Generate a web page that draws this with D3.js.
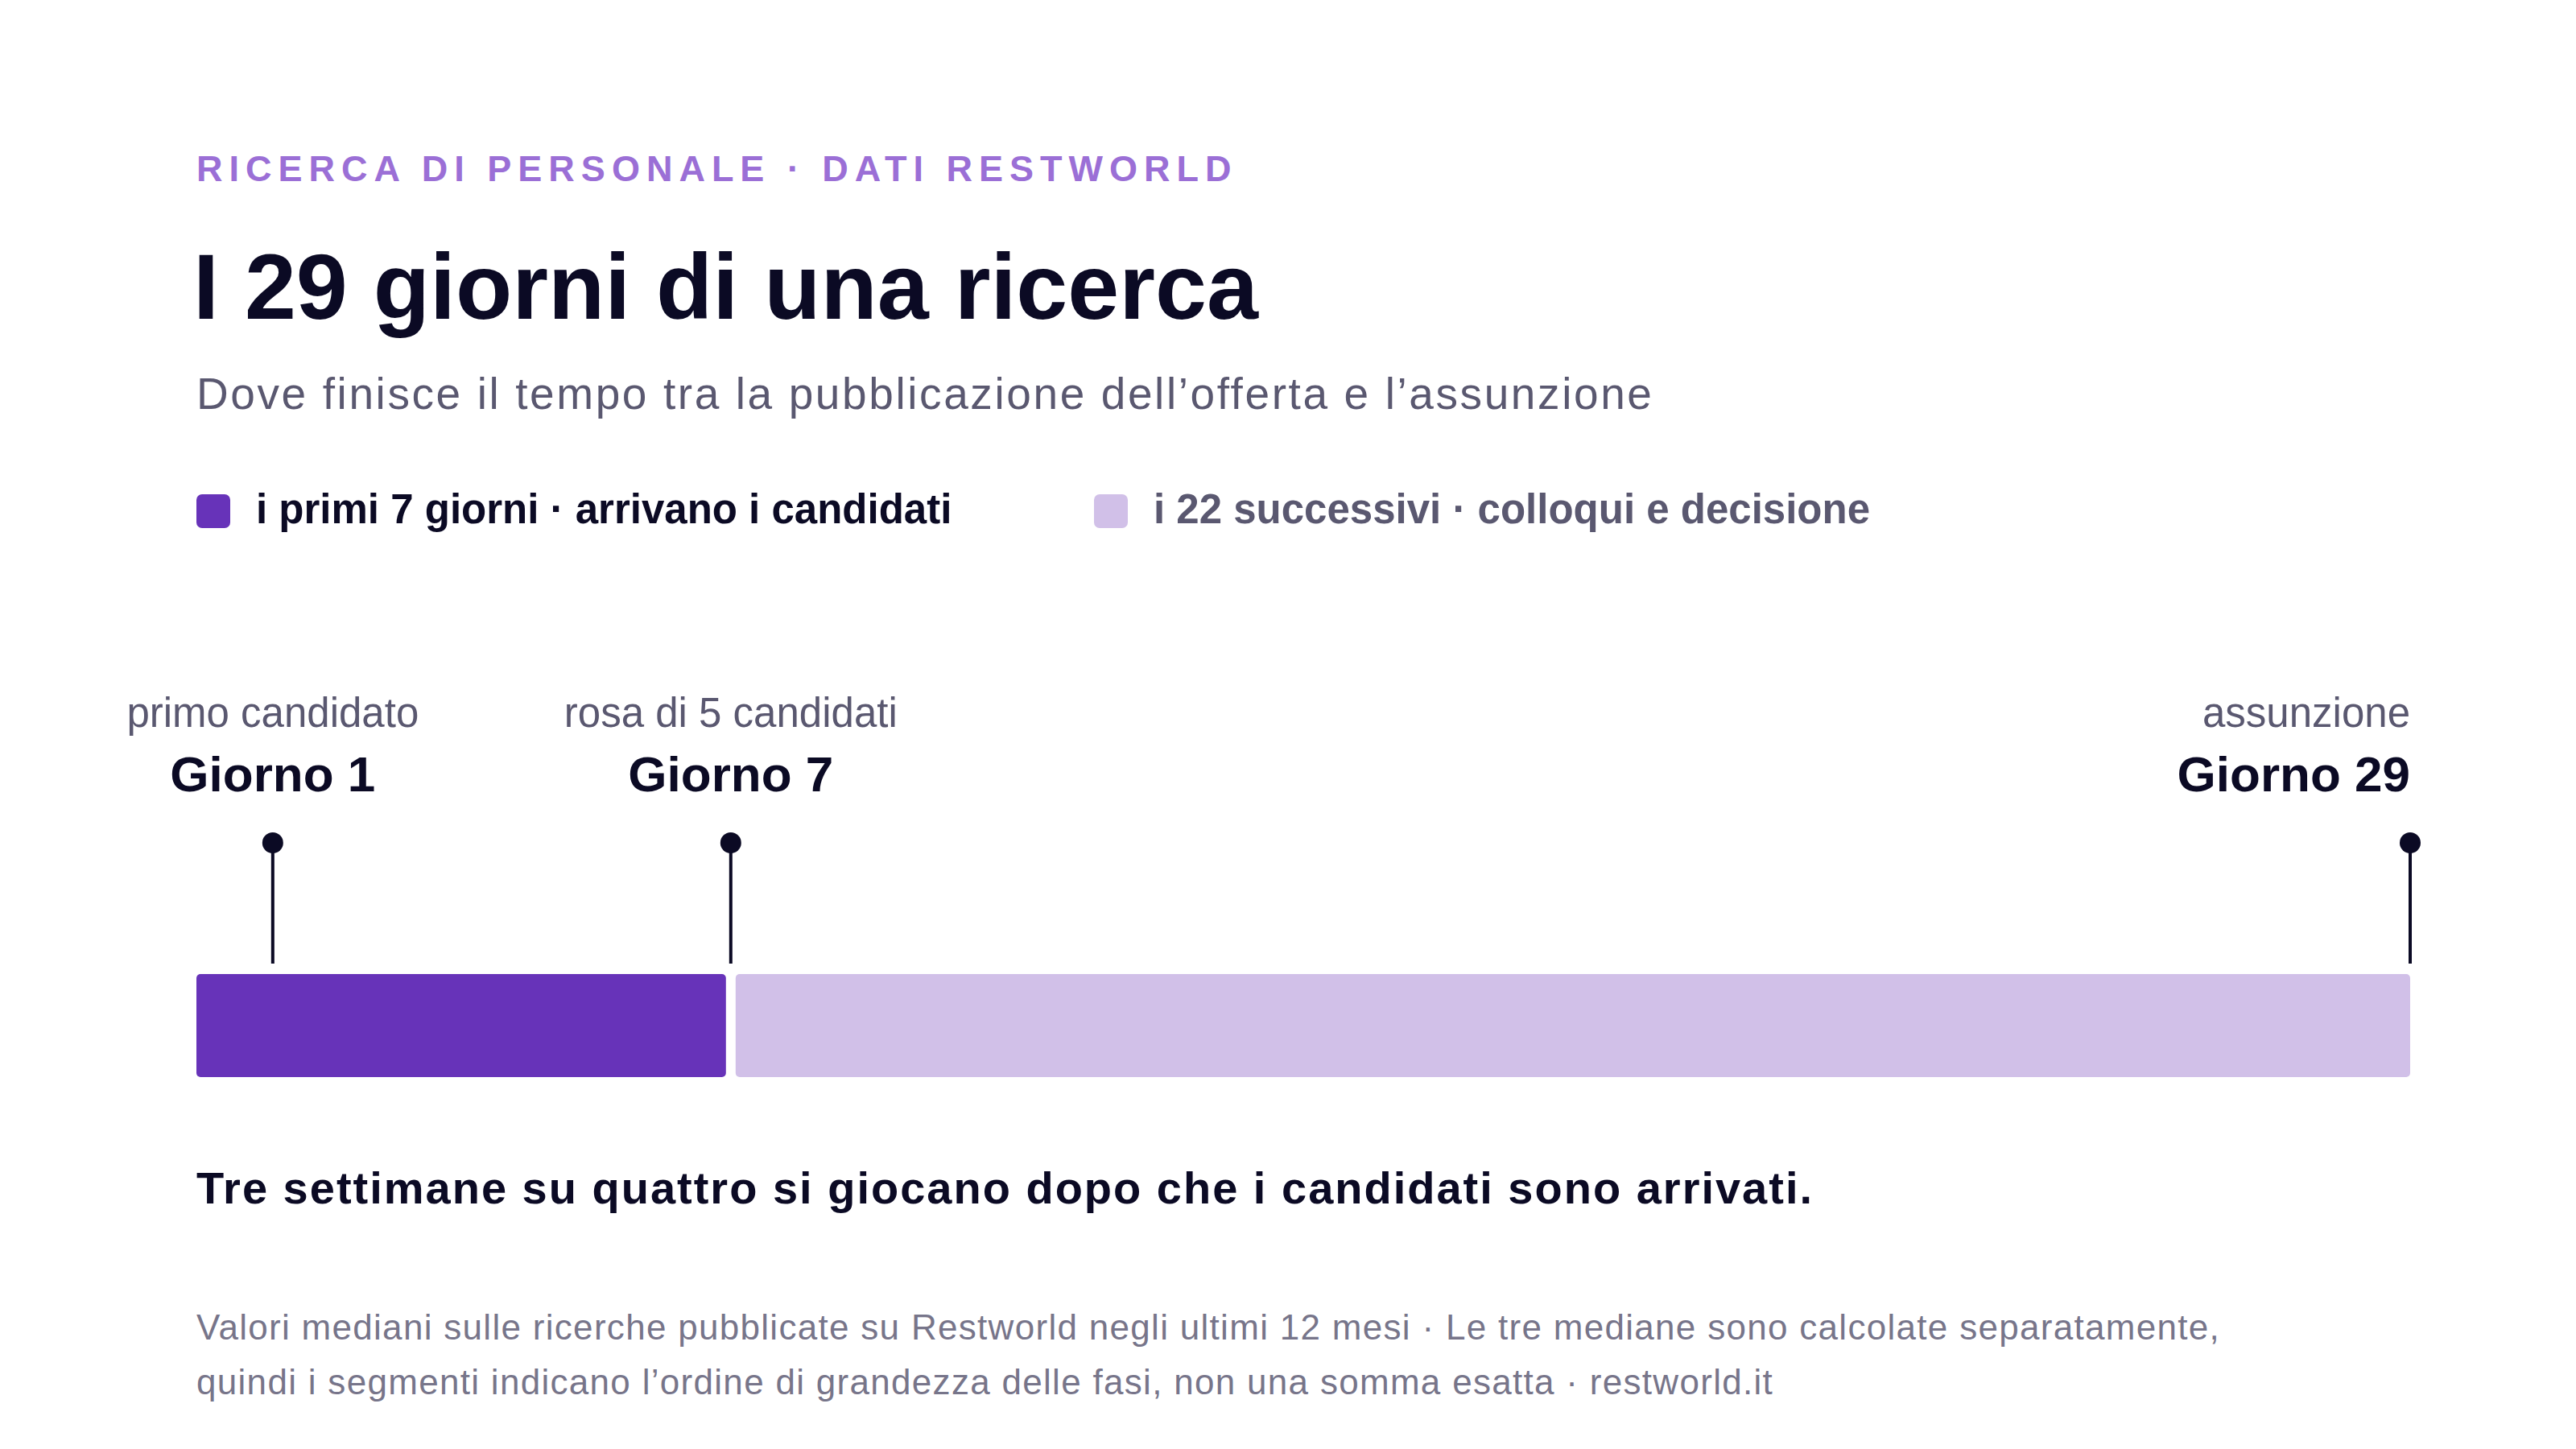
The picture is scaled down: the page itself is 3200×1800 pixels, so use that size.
<!DOCTYPE html>
<html>
<head>
<meta charset="utf-8">
<script src="https://d3js.org/d3.v7.min.js"></script>
<style>
  body { margin: 0; background: #fff; }
  svg { display: block; font-family: "Liberation Sans", Arial, sans-serif; }
</style>
</head>
<body>
<div id="chart"></div>
<script>
// phases of the search, in days
const phases = [
  { key: 'early', start: 0, end: 7, label: 'i primi 7 giorni · arrivano i candidati', color: '#6733b9', text: '#0b0a24' },
  { key: 'late', start: 7, end: 29, label: 'i 22 successivi · colloqui e decisione', color: '#d1c0e8', text: '#5a5870' }
];
const milestones = [
  { day: 1, top: 'primo candidato', bottom: 'Giorno 1', anchor: 'middle' },
  { day: 7, top: 'rosa di 5 candidati', bottom: 'Giorno 7', anchor: 'middle' },
  { day: 29, top: 'assunzione', bottom: 'Giorno 29', anchor: 'end' }
];
const footnote = [
  'Valori mediani sulle ricerche pubblicate su Restworld negli ultimi 12 mesi · Le tre mediane sono calcolate separatamente,',
  'quindi i segmenti indicano l’ordine di grandezza delle fasi, non una somma esatta · restworld.it'
];

const W = 3200, H = 1800, left = 244;
const svg = d3.select('#chart').append('svg').attr('width', W).attr('height', H);

svg.append('text').attr('x', left).attr('y', 225)
  .attr('font-size', 45).attr('font-weight', 700).attr('letter-spacing', 8)
  .attr('fill', '#9b6fd6').text('RICERCA DI PERSONALE · DATI RESTWORLD');
svg.append('text').attr('x', left - 4).attr('y', 396)
  .attr('font-size', 115).attr('font-weight', 700).attr('fill', '#0b0a24')
  .text('I 29 giorni di una ricerca');
svg.append('text').attr('x', left).attr('y', 508)
  .attr('font-size', 55).attr('letter-spacing', 2.6).attr('fill', '#5a5870')
  .text('Dove finisce il tempo tra la pubblicazione dell’offerta e l’assunzione');

// legend
const legX = [244, 1359];
const leg = svg.selectAll('.leg').data(phases).enter().append('g')
  .attr('transform', (d, i) => `translate(${legX[i]},614)`);
leg.append('rect').attr('width', 42).attr('height', 42).attr('rx', 7).attr('fill', d => d.color);
leg.append('text').attr('x', 74).attr('y', 36).attr('font-size', 51).attr('font-weight', 700)
  .attr('fill', d => d.text).text(d => d.label);

const x = d3.scaleLinear().domain([0, 29]).range([left, 2994]);
const barY = 1210, barH = 128, gap = 6;

svg.selectAll('.seg').data(phases).enter().append('rect')
  .attr('x', d => x(d.start) + (d.start > 0 ? gap : 0))
  .attr('width', d => x(d.end) - x(d.start) - (d.start > 0 ? gap : 0) - (d.end < 29 ? gap : 0))
  .attr('y', barY).attr('height', barH).attr('rx', 5)
  .attr('fill', d => d.color);

const m = svg.selectAll('.ms').data(milestones).enter().append('g')
  .attr('transform', d => `translate(${x(d.day)},0)`);
m.append('line').attr('y1', 1047).attr('y2', 1197)
  .attr('stroke', '#0b0a24').attr('stroke-width', 4);
m.append('circle').attr('cy', 1047).attr('r', 13).attr('fill', '#0b0a24');
m.append('text').attr('y', 903).attr('text-anchor', d => d.anchor)
  .attr('font-size', 51).attr('fill', '#5a5870').text(d => d.top);
m.append('text').attr('y', 983).attr('text-anchor', d => d.anchor)
  .attr('font-size', 62).attr('font-weight', 700).attr('fill', '#0b0a24').text(d => d.bottom);

svg.append('text').attr('x', left).attr('y', 1495)
  .attr('font-size', 56).attr('font-weight', 700).attr('letter-spacing', 2).attr('fill', '#0b0a24')
  .text('Tre settimane su quattro si giocano dopo che i candidati sono arrivati.');

svg.selectAll('.fn').data(footnote).enter().append('text')
  .attr('x', left).attr('y', (d, i) => 1664 + i * 68)
  .attr('font-size', 44).attr('letter-spacing', 1.3).attr('fill', '#77758a').text(d => d);
</script>
</body>
</html>
